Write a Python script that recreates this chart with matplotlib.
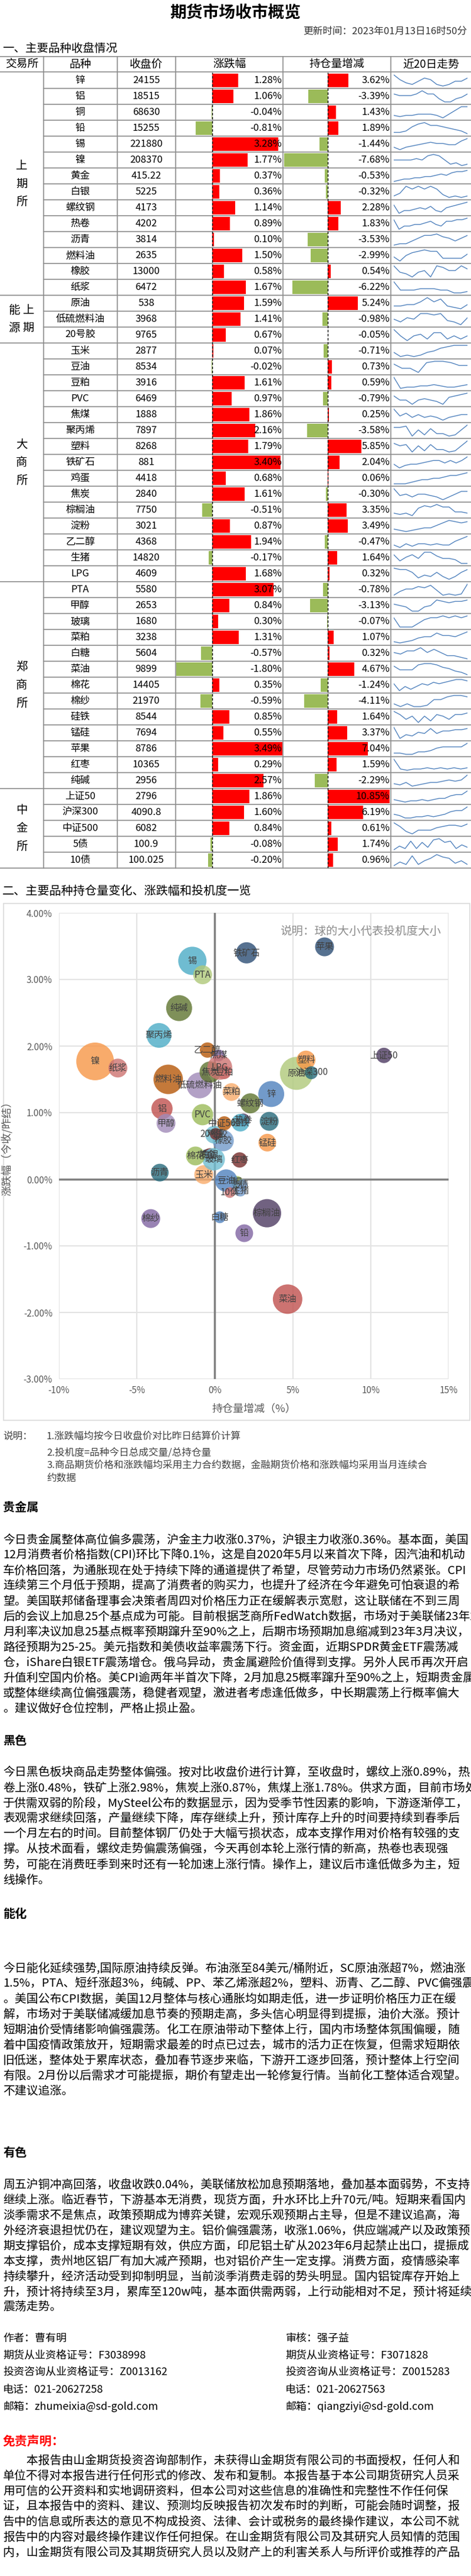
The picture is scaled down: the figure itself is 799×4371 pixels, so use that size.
import matplotlib
matplotlib.use("Agg")
import matplotlib.pyplot as plt
import numpy as np

plt.rcParams["font.family"] = "Noto Sans CJK SC"
plt.rcParams["axes.unicode_minus"] = False

W, H = 799, 4371

# ---------------- data ----------------
exchanges = ["上\n期\n所", "能 上\n源 期", "大\n商\n所", "郑\n商\n所", "中\n金\n所"]
exchange_sizes = [14, 3, 15, 13, 5]

names = ["锌", "铝", "铜", "铅", "锡", "镍", "黄金", "白银", "螺纹钢", "热卷", "沥青", "燃料油", "橡胶", "纸浆",
         "原油", "低硫燃料油", "20号胶",
         "玉米", "豆油", "豆粕", "PVC", "焦煤", "聚丙烯", "塑料", "铁矿石", "鸡蛋", "焦炭", "棕榈油", "淀粉", "乙二醇", "生猪", "LPG",
         "PTA", "甲醇", "玻璃", "菜粕", "白糖", "菜油", "棉花", "棉纱", "硅铁", "锰硅", "苹果", "红枣", "纯碱",
         "上证50", "沪深300", "中证500", "5债", "10债"]
close = ["24155", "18515", "68630", "15255", "221880", "208370", "415.22", "5225", "4173", "4202", "3814", "2635", "13000", "6472",
         "538", "3968", "9765",
         "2877", "8534", "3916", "6469", "1888", "7897", "8268", "881", "4418", "2840", "7750", "3021", "4368", "14820", "4609",
         "5580", "2653", "1680", "3238", "5604", "9899", "14405", "21970", "8544", "7694", "8786", "10365", "2956",
         "2796", "4090.8", "6082", "100.9", "100.025"]
pct_chg = [1.28, 1.06, -0.04, -0.81, 3.28, 1.77, 0.37, 0.36, 1.14, 0.89, 0.10, 1.50, 0.58, 1.67,
           1.59, 1.41, 0.67,
           0.07, -0.02, 1.61, 0.97, 1.86, 2.16, 1.79, 3.40, 0.68, 1.61, -0.51, 0.87, 1.94, -0.17, 1.68,
           3.07, 0.84, 0.30, 1.31, -0.57, -1.80, 0.35, -0.59, 0.85, 0.55, 3.49, 0.29, 2.57,
           1.86, 1.60, 0.84, -0.08, -0.20]
oi_chg = [3.62, -3.39, 1.43, 1.89, -1.44, -7.68, -0.53, -0.32, 2.28, 1.83, -3.53, -2.99, 0.54, -6.22,
          5.24, -0.98, -0.05,
          -0.71, 0.73, 0.59, -0.79, 0.25, -3.58, 5.85, 2.04, 0.06, -0.30, 3.35, 3.49, -0.47, 1.64, 0.32,
          -0.78, -3.13, -0.07, 1.07, 0.32, 4.67, -1.24, -4.11, 1.64, 3.37, 7.04, 1.59, -2.29,
          10.85, 6.19, 0.61, 1.74, 0.96]
# speculation degree (bubble size, read as relative size)
spec = [22, 18, 10, 15, 24, 32, 9, 12, 17, 11, 15, 25, 18, 16,
        28, 22, 15,
        16, 19, 12, 18, 10, 21, 16, 18, 10, 18, 24, 16, 13, 10, 21,
        16, 16, 19, 15, 10, 25, 16, 16, 15, 15, 16, 13, 22,
        13, 11, 12, 9, 9]

trend20 = [
    [9, 6, 4, 3, 5, 7, 6, 3, 2, 3, 5, 5, 7],
    [6, 5, 5, 5, 6, 8, 6, 6, 3, 1, 1, 3, 4, 6],
    [3, 2, 3, 3, 4, 4, 4, 3, 1, 4, 7, 10, 10],
    [2, 2, 3, 6, 8, 9, 7, 7, 6, 5, 4, 3, 1],
    [3, 1, 3, 4, 5, 6, 7, 6, 6, 5, 5, 8, 10],
    [5, 5, 5, 5, 6, 5, 8, 9, 8, 5, 2, 3, 1, 2],
    [1, 2, 3, 3, 4, 4, 5, 5, 6, 7, 6, 8, 9, 9, 10],
    [2, 4, 9, 7, 9, 7, 9, 7, 3, 1, 2, 1, 2],
    [8, 2, 4, 4, 5, 6, 5, 7, 4, 3, 6, 7, 8, 9, 10],
    [8, 2, 4, 4, 5, 5, 6, 7, 5, 4, 7, 7, 8, 8, 9],
    [1, 2, 2, 4, 6, 8, 8, 9, 7, 6, 4, 6, 8],
    [4, 1, 5, 7, 8, 9, 8, 8, 3, 3, 3, 3, 6],
    [9, 5, 4, 2, 5, 6, 2, 9, 8, 6, 6, 9, 7],
    [9, 3, 3, 3, 4, 4, 4, 3, 3, 1, 1, 2],
    [3, 3, 4, 4, 6, 9, 6, 8, 3, 2, 1, 4],
    [5, 3, 6, 5, 9, 9, 8, 9, 4, 3, 1, 6],
    [9, 5, 2, 5, 6, 3, 7, 7, 3, 5, 3, 5],
    [4, 1, 2, 1, 2, 4, 5, 7, 8, 9, 9, 9],
    [7, 4, 4, 1, 8, 9, 9, 8, 6, 6],
    [10, 1, 2, 2, 3, 3, 4, 3, 2, 2, 3, 4],
    [8, 5, 5, 2, 5, 6, 5, 4, 2, 7, 8, 9, 10],
    [9, 4, 6, 3, 5, 3, 4, 3, 1, 3, 4, 5, 5],
    [8, 8, 9, 1, 6, 2, 7, 3, 3, 1, 2, 6, 10],
    [8, 6, 7, 1, 6, 2, 7, 3, 3, 1, 2, 6, 10],
    [4, 1, 3, 4, 4, 5, 6, 7, 7, 5, 7, 5, 7, 10],
    [1, 1, 1, 2, 3, 4, 4, 5, 5, 6, 7, 7, 8, 9],
    [9, 4, 5, 3, 5, 5, 4, 3, 1, 3, 5, 7, 7],
    [3, 2, 3, 1, 7, 9, 8, 10, 8, 8, 4, 4, 3],
    [3, 2, 1, 2, 3, 4, 4, 6, 8, 10, 9, 8, 9],
    [3, 1, 4, 2, 4, 4, 3, 4, 3, 3, 6, 8, 10],
    [8, 3, 6, 8, 5, 10, 10, 7, 5, 5, 4, 1, 1],
    [9, 8, 8, 6, 2, 4, 3, 6, 3, 1, 3, 6, 8],
    [1, 4, 6, 6, 8, 7, 9, 5, 1, 2, 1, 2, 10],
    [6, 5, 4, 1, 1, 4, 5, 9, 8, 7, 8, 8, 9],
    [8, 3, 3, 3, 5, 7, 8, 8, 9, 8, 9, 8, 9],
    [2, 1, 2, 3, 5, 6, 6, 9, 7, 7, 6, 8, 10],
    [5, 4, 6, 6, 8, 5, 7, 5, 3, 3, 2, 1],
    [7, 4, 4, 4, 8, 9, 9, 8, 6, 5, 3, 2, 0],
    [6, 1, 4, 2, 4, 6, 5, 7, 6, 7, 8, 9, 9, 8],
    [3, 1, 3, 1, 1, 2, 6, 6, 8, 9, 9, 8],
    [9, 7, 4, 6, 2, 6, 3, 7, 6, 4, 7, 7, 8],
    [10, 1, 4, 3, 6, 5, 9, 5, 7, 7, 8, 8, 9],
    [2, 2, 1, 1, 3, 3, 4, 6, 7, 7, 7, 7, 10],
    [10, 2, 1, 2, 2, 3, 2, 3, 2, 3, 2, 3],
    [3, 2, 4, 1, 2, 3, 4, 4, 5, 6, 5, 6, 10],
    [3, 2, 1, 2, 2, 3, 2, 3, 4, 4, 6, 7, 7, 10],
    [4, 3, 1, 1, 2, 2, 3, 2, 3, 4, 6, 7, 7, 10],
    [10, 7, 3, 1, 4, 4, 4, 6, 7, 8, 8, 7, 9],
    [1, 4, 2, 8, 2, 7, 3, 9, 10, 7, 8, 2, 5, 3],
    [1, 4, 2, 9, 2, 5, 7, 10, 8, 7, 3, 5, 2],
]

x_ticks = [-10, -5, 0, 5, 10, 15]
y_ticks = [-3, -2, -1, 0, 1, 2, 3, 4]

notes = ["1.涨跌幅均按今日收盘价对比昨日结算价计算",
         "2.投机度=品种今日总成交量/总持仓量",
         "3.商品期货价格和涨跌幅均采用主力合约数据，金融期货价格和涨跌幅均采用当月连续合",
         "约数据"]

para_gold = [
    "今日贵金属整体高位偏多震荡，沪金主力收涨0.37%，沪银主力收涨0.36%。基本面，美国",
    "12月消费者价格指数(CPI)环比下降0.1%，这是自2020年5月以来首次下降，因汽油和机动",
    "车价格回落，为通胀现在处于持续下降的通道提供了希望，尽管劳动力市场仍然紧张。CPI",
    "连续第三个月低于预期，提高了消费者的购买力，也提升了经济在今年避免可怕衰退的希",
    "望。美国联邦储备理事会决策者周四对价格压力正在缓解表示宽慰，这让联储在不到三周",
    "后的会议上加息25个基点成为可能。目前根据芝商所FedWatch数据，市场对于美联储23年2",
    "月利率决议加息25基点概率预期蹿升至90%之上，后期市场预期加息缩减到23年3月决议，",
    "路径预期为25-25。美元指数和美债收益率震荡下行。资金面，近期SPDR黄金ETF震荡减",
    "仓，iShare白银ETF震荡增仓。俄乌异动，贵金属避险价值得到支撑。另外人民币再次开启",
    "升值利空国内价格。美CPI逾两年半首次下降，2月加息25概率蹿升至90%之上，短期贵金属",
    "或整体继续高位偏强震荡，稳健者观望，激进者考虑逢低做多，中长期震荡上行概率偏大",
    "。建议做好仓位控制，严格止损止盈。"]
para_black = [
    "今日黑色板块商品走势整体偏强。按对比收盘价进行计算，至收盘时，螺纹上涨0.89%，热",
    "卷上涨0.48%，铁矿上涨2.98%，焦炭上涨0.87%，焦煤上涨1.78%。供求方面，目前市场处",
    "于供需双弱的阶段，MySteel公布的数据显示，因为受季节性因素的影响，下游逐渐停工，",
    "表观需求继续回落，产量继续下降，库存继续上升，预计库存上升的时间要持续到春季后",
    "一个月左右的时间。目前整体钢厂仍处于大幅亏损状态，成本支撑作用对价格有较强的支",
    "撑。从技术面看，螺纹走势偏震荡偏强，今天再创本轮上涨行情的新高，热卷也表现强",
    "势，可能在消费旺季到来时还有一轮加速上涨行情。操作上，建议后市逢低做多为主，短",
    "线操作。"]
para_energy = [
    "今日能化延续强势,国际原油持续反弹。布油涨至84美元/桶附近，SC原油涨超7%，燃油涨",
    "1.5%，PTA、短纤涨超3%，纯碱、PP、苯乙烯涨超2%，塑料、沥青、乙二醇、PVC偏强震荡",
    "。美国公布CPI数据，美国12月整体与核心通胀均如期走低，进一步证明价格压力正在缓",
    "解，市场对于美联储减缓加息节奏的预期走高，多头信心明显得到提振，油价大涨。预计",
    "短期油价受情绪影响偏强震荡。化工在原油带动下整体上行，国内市场整体氛围偏暖，随",
    "着中国疫情政策放开，短期需求最差的时点已过去，城市的活力正在恢复，但需求短期依",
    "旧低迷，整体处于累库状态，叠加春节逐步来临，下游开工逐步回落，预计整体上行空间",
    "有限。2月份以后需求才可能提振，期价有望走出一轮修复行情。当前化工整体适合观望。",
    "不建议追涨。"]
para_metal = [
    "周五沪铜冲高回落，收盘收跌0.04%，美联储放松加息预期落地，叠加基本面弱势，不支持",
    "继续上涨。临近春节，下游基本无消费，现货方面，升水环比上升70元/吨。短期来看国内",
    "淡季需求不是焦点，政策预期成为博弈关键，宏观乐观预期占主导，但是不建议追高，海",
    "外经济衰退担忧仍在，建议观望为主。铝价偏强震荡，收涨1.06%，供应端减产以及政策预",
    "期支撑铝价，成本支撑短期有效，供应方面，印尼铝土矿从2023年6月起禁止出口，提振成",
    "本支撑，贵州地区铝厂有加大减产预期，也对铝价产生一定支撑。消费方面，疫情感染率",
    "持续攀升，经济活动受到抑制明显，当前淡季消费走弱的势头明显。国内铝锭库存开始上",
    "升，预计将持续至3月，累库至120w吨，基本面供需两弱，上行动能相对不足，预计将延续",
    "震荡走势。"]
footer_left = ["作者：曹有明", "期货从业资格证号：F3038998", "投资咨询从业资格证号：Z0013162",
               "电话：021-20627258", "邮箱：zhumeixia@sd-gold.com"]
footer_right = ["审核：强子益", "期货从业资格证号：F3071828", "投资咨询从业资格证号：Z0015283",
                "电话：021-20627563", "邮箱：qiangziyi@sd-gold.com"]
disclaimer = [
    "　　本报告由山金期货投资咨询部制作，未获得山金期货有限公司的书面授权，任何人和",
    "单位不得对本报告进行任何形式的修改、发布和复制。本报告基于本公司期货研究人员采",
    "用可信的公开资料和实地调研资料，但本公司对这些信息的准确性和完整性不作任何保",
    "证，且本报告中的资料、建议、预测均反映报告初次发布时的判断，可能会随时调整，报",
    "告中的信息或所表达的意见不构成投资、法律、会计或税务的最终操作建议，本公司不就",
    "报告中的内容对最终操作建议作任何担保。在山金期货有限公司及其研究人员知情的范围",
    "内，山金期货有限公司及其期货研究人员以及财产上的利害关系人与所评价或推荐的产品"]

# ---------------- layout helpers ----------------
def box(x0, y0, x1, y1):
    return [x0 / W, 1 - y1 / H, (x1 - x0) / W, (y1 - y0) / H]

fig = plt.figure(figsize=(W / 100, H / 100), dpi=100)
bg = fig.add_axes([0, 0, 1, 1])
bg.set_xlim(0, W)
bg.set_ylim(H, 0)
bg.axis("off")

RED, GREEN, GRID = "#FF0000", "#9BBB59", "#8C8C8C"
n = len(names)
T0, RH = 123, 27
T1 = T0 + n * RH
cols = [0, 74, 199, 298, 480, 663, 799]

# title
bg.text(W / 2, 22, "期货市场收市概览", ha="center", va="center", fontsize=20, fontweight="bold")
bg.text(792, 53, "更新时间：2023年01月13日16时50分", ha="right", va="center", fontsize=12, color="#333333")
bg.text(4, 82, "一、主要品种收盘情况", ha="left", va="center", fontsize=14)

# table header
for x0, x1, lab in zip(cols[:-1], cols[1:], ["交易所", "品种", "收盘价", "涨跌幅", "持仓量增减", "近20日走势"]):
    bg.text((x0 + x1) / 2, 109, lab, ha="center", va="center", fontsize=13.5)
bg.plot([0, W], [96, 96], color=GRID, lw=1.2)
bg.plot([0, W], [122, 122], color=GRID, lw=1.2)
for x in cols[1:-1]:
    bg.plot([x, x], [96, T1], color=GRID, lw=1.2)

# rows
for i in range(n):
    yc = T0 + (i + 0.5) * RH
    bg.plot([74, W], [T0 + (i + 1) * RH] * 2, color=GRID, lw=1.2)
    bg.text(136, yc, names[i], ha="center", va="center", fontsize=12)
    bg.text(248, yc, close[i], ha="center", va="center", fontsize=12)

start = 0
for lab, sz in zip(exchanges, exchange_sizes):
    y0 = T0 + start * RH
    y1 = T0 + (start + sz) * RH
    bg.plot([0, 74], [y1, y1], color=GRID, lw=1.2)
    bg.text(37, (y0 + y1) / 2, lab, ha="center", va="center", fontsize=14, linespacing=1.6)
    start += sz

rows = np.arange(n)
# change % bars
axp = fig.add_axes(box(298, T0, 480, T1))
axp.set_xlim(-(360 - 298) / 34, (480 - 360) / 34)
axp.set_ylim(n, 0)
axp.axis("off")
axp.barh(rows + 0.5, pct_chg, height=0.85, color=[RED if v >= 0 else GREEN for v in pct_chg])
axp.axvline(0, color="black", lw=1, ls=(0, (3, 2)))
for i, v in enumerate(pct_chg):
    axp.text(0.99, 1 - (i + 0.5) / n, f"{v:.2f}%", transform=axp.transAxes, ha="right", va="center", fontsize=12)

# open interest bars
axo = fig.add_axes(box(480, T0, 663, T1))
axo.set_xlim(-(556 - 480) / 9.68, (663 - 556) / 9.68)
axo.set_ylim(n, 0)
axo.axis("off")
axo.barh(rows + 0.5, oi_chg, height=0.85, color=[RED if v >= 0 else GREEN for v in oi_chg])
axo.axvline(0, color="black", lw=1, ls=(0, (3, 2)))
for i, v in enumerate(oi_chg):
    axo.text(0.99, 1 - (i + 0.5) / n, f"{v:.2f}%", transform=axo.transAxes, ha="right", va="center", fontsize=12)

# sparklines
axs = fig.add_axes(box(668, T0, 793, T1))
axs.set_xlim(0, 1)
axs.set_ylim(n, 0)
axs.axis("off")
for i, s in enumerate(trend20):
    s = np.asarray(s, float)
    yy = i + 0.85 - 0.7 * (s - s.min()) / (s.max() - s.min())
    axs.plot(np.linspace(0, 1, len(s)), yy, color="#4F81BD", lw=1)

# ---------------- bubble chart ----------------
bg.text(4, 1512, "二、主要品种持仓量变化、涨跌幅和投机度一览", ha="left", va="center", fontsize=14.5)
bg.add_patch(plt.Rectangle((6, 1533), 791, 877, fill=False, ec="#D9D9D9", lw=1.2))

axb = fig.add_axes(box(100, 1549, 761, 2340))
axb.set_xlim(-10, 15)
axb.set_ylim(-3, 4)
axb.set_xticks(x_ticks)
axb.set_xticklabels([f"{t}%" for t in x_ticks])
axb.set_yticks(y_ticks)
axb.set_yticklabels([f"{t:.2f}%" for t in y_ticks])
axb.grid(True, color="#E3E3E3", lw=1.5)
axb.set_axisbelow(True)
for sp in axb.spines.values():
    sp.set_visible(False)
axb.tick_params(length=0, labelsize=11, labelcolor="#595959", pad=8)
axb.axhline(0, color="#808080", lw=2.5, zorder=1)
axb.axvline(0, color="#808080", lw=2.5, zorder=1)
axb.set_xlabel("持仓量增减（%）", fontsize=13, color="#595959", labelpad=10)
axb.set_ylabel("涨跌幅（今收/昨结）", fontsize=13, color="#595959")
axb.yaxis.set_label_coords(-0.118, 0.5)
axb.text(0.98, 0.96, "说明：球的大小代表投机度大小", transform=axb.transAxes, ha="right", va="center",
         fontsize=14, color="#8C8C8C")

palette = ["#4F81BD", "#C0504D", "#9BBB59", "#8064A2", "#4BACC6", "#F79646", "#2C4D75", "#772C2A",
           "#5F7530", "#4D3B62", "#276A7C", "#B65708", "#729ACA", "#CD7371", "#AFC97A", "#A08AB8",
           "#6FBDD1", "#F9AB6B"]
cols_b = [palette[i % len(palette)] for i in range(n)]
sizes = [(2 * r * 0.72) ** 2 for r in spec]
axb.scatter(oi_chg, pct_chg, s=sizes, c=cols_b, alpha=0.8, edgecolors="none", zorder=3)
for i in range(n):
    axb.text(oi_chg[i], pct_chg[i], names[i], ha="center", va="center", fontsize=11, color="#404040", zorder=4)

# notes
bg.text(5, 2437, "说明：", ha="left", va="center", fontsize=12, color="#404040")
for k, line in enumerate(notes):
    bg.text(79, [2437, 2465, 2487, 2508][k], line, ha="left", va="center", fontsize=12, color="#404040")

# ---------------- text sections ----------------
def section(title, y_title, lines, y0):
    bg.text(5, y_title, title, ha="left", va="center", fontsize=14.5, fontweight="bold")
    for k, line in enumerate(lines):
        bg.text(5, y0 + k * 26, line, ha="left", va="center", fontsize=14.3)

section("贵金属", 2557, para_gold, 2613)
section("黑色", 2953, para_black, 3008)
section("能化", 3247, para_energy, 3340)
section("有色", 3652, para_metal, 3707)

for k, (a, b) in enumerate(zip(footer_left, footer_right)):
    bg.text(5, 3968 + k * 29, a, ha="left", va="center", fontsize=13)
    bg.text(484, 3968 + k * 29, b, ha="left", va="center", fontsize=13)

bg.text(5, 4143, "免责声明：", ha="left", va="center", fontsize=15, fontweight="bold", color="#FF0000")
for k, line in enumerate(disclaimer):
    bg.text(5, 4175 + k * 26, line, ha="left", va="center", fontsize=14.3)

fig.savefig("out.png", dpi=100)
